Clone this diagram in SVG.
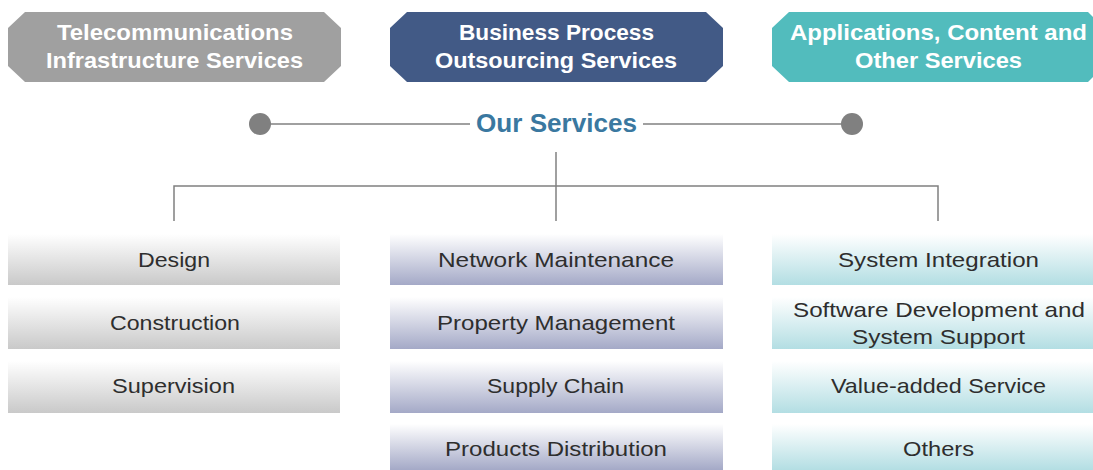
<svg xmlns="http://www.w3.org/2000/svg" width="1093" height="470" viewBox="0 0 1093 470">
<defs>
<linearGradient id="gGray" x1="0" y1="0" x2="0" y2="1"><stop offset="0" stop-color="#ffffff"/><stop offset="1" stop-color="#c9c9c9"/></linearGradient>
<linearGradient id="gBlue" x1="0" y1="0" x2="0" y2="1"><stop offset="0" stop-color="#ffffff"/><stop offset="1" stop-color="#a4a9c7"/></linearGradient>
<linearGradient id="gTeal" x1="0" y1="0" x2="0" y2="1"><stop offset="0" stop-color="#ffffff"/><stop offset="1" stop-color="#b3dee3"/></linearGradient>
</defs>
<style>
.hd{font-family:"Liberation Sans",Arial,sans-serif;font-weight:bold;font-size:22px;fill:#fff;text-anchor:middle}
.it{font-family:"Liberation Sans",Arial,sans-serif;font-size:21px;fill:#2e2e2e;text-anchor:middle}
.ln{stroke:#808080;stroke-width:1.5;fill:none}
</style>
<g id="h1"><polygon points="25,12 324,12 341,28 341,66 324,82 25,82 8,66 8,28" fill="#a0a0a0"/><text class="hd" x="175" y="40" textLength="236" lengthAdjust="spacingAndGlyphs">Telecommunications</text><text class="hd" x="174.5" y="68" textLength="257" lengthAdjust="spacingAndGlyphs">Infrastructure Services</text></g>
<g id="h2"><polygon points="407,12 706,12 723,28 723,66 706,82 407,82 390,66 390,28" fill="#425a86"/><text class="hd" x="556.5" y="40" textLength="195" lengthAdjust="spacingAndGlyphs">Business Process</text><text class="hd" x="556" y="68" textLength="242" lengthAdjust="spacingAndGlyphs">Outsourcing Services</text></g>
<g id="h3"><polygon points="789,12 1088,12 1093,17 1093,77 1088,82 789,82 772,66 772,28" fill="#52bcbd"/><text class="hd" x="938.5" y="40" textLength="297" lengthAdjust="spacingAndGlyphs">Applications, Content and</text><text class="hd" x="938.5" y="68" textLength="167" lengthAdjust="spacingAndGlyphs">Other Services</text></g>
<g id="title"><text x="556.5" y="132" font-family="Liberation Sans,Arial,sans-serif" font-weight="bold" font-size="25" fill="#3a78a0" text-anchor="middle" textLength="161" lengthAdjust="spacingAndGlyphs">Our Services</text></g>
<g id="connectors">
<line class="ln" x1="260" y1="124" x2="470" y2="124"/>
<line class="ln" x1="643" y1="124" x2="852" y2="124"/>
<circle cx="260" cy="124" r="11" fill="#808080"/>
<circle cx="852" cy="124" r="11" fill="#808080"/>
<line class="ln" x1="556" y1="152" x2="556" y2="221"/>
<polyline class="ln" points="174,221 174,186 938,186 938,221"/>
</g>
<g id="c1">
<g id="design"><rect x="8" y="234" width="332" height="51" fill="url(#gGray)"/><text class="it" x="174" y="267" textLength="72" lengthAdjust="spacingAndGlyphs">Design</text></g>
<g id="construction"><rect x="8" y="297" width="332" height="52" fill="url(#gGray)"/><text class="it" x="175" y="330" textLength="130" lengthAdjust="spacingAndGlyphs">Construction</text></g>
<g id="supervision"><rect x="8" y="361" width="332" height="52" fill="url(#gGray)"/><text class="it" x="173.5" y="393" textLength="123" lengthAdjust="spacingAndGlyphs">Supervision</text></g>
</g>
<g id="c2">
<g id="netmaint"><rect x="390" y="234" width="333" height="51" fill="url(#gBlue)"/><text class="it" x="556" y="267" textLength="236" lengthAdjust="spacingAndGlyphs">Network Maintenance</text></g>
<g id="propmgmt"><rect x="390" y="297" width="333" height="52" fill="url(#gBlue)"/><text class="it" x="556" y="330" textLength="238" lengthAdjust="spacingAndGlyphs">Property Management</text></g>
<g id="supply"><rect x="390" y="361" width="333" height="52" fill="url(#gBlue)"/><text class="it" x="555.5" y="393" textLength="137" lengthAdjust="spacingAndGlyphs">Supply Chain</text></g>
<g id="distrib"><rect x="390" y="424" width="333" height="46" fill="url(#gBlue)"/><text class="it" x="556" y="456" textLength="222" lengthAdjust="spacingAndGlyphs">Products Distribution</text></g>
</g>
<g id="c3">
<g id="sysint"><rect x="772" y="234" width="321" height="51" fill="url(#gTeal)"/><text class="it" x="938.5" y="267" textLength="201" lengthAdjust="spacingAndGlyphs">System Integration</text></g>
<g id="software"><rect x="772" y="297" width="321" height="52" fill="url(#gTeal)"/><text class="it" x="939" y="317" textLength="292" lengthAdjust="spacingAndGlyphs">Software Development and</text><text class="it" x="938.5" y="344" textLength="173" lengthAdjust="spacingAndGlyphs">System Support</text></g>
<g id="vas"><rect x="772" y="361" width="321" height="52" fill="url(#gTeal)"/><text class="it" x="938.5" y="393" textLength="215" lengthAdjust="spacingAndGlyphs">Value-added Service</text></g>
<g id="others"><rect x="772" y="424" width="321" height="46" fill="url(#gTeal)"/><text class="it" x="938.5" y="456" textLength="71" lengthAdjust="spacingAndGlyphs">Others</text></g>
</g>
</svg>
